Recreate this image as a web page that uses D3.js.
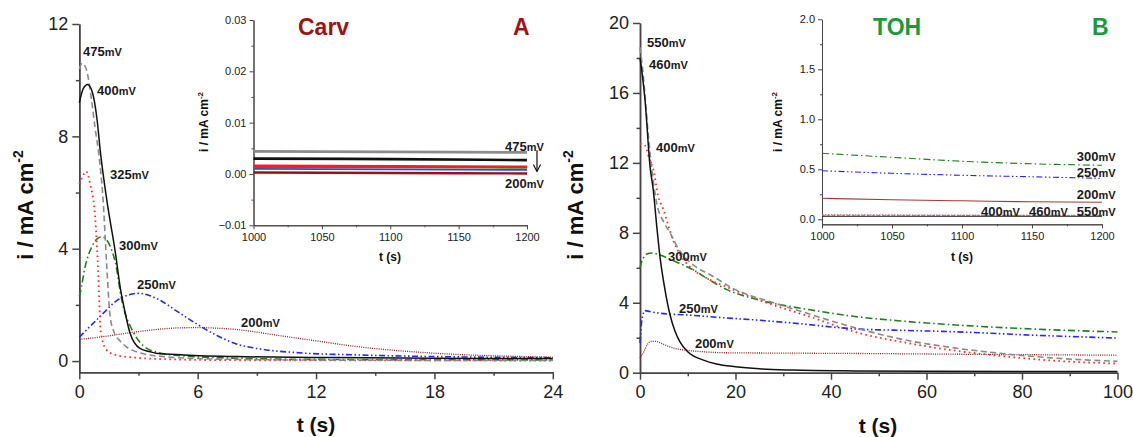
<!DOCTYPE html>
<html lang="en">
  <head>
    <meta charset="utf-8">
    <title>Chronoamperometry Carv / TOH</title>
    <script src="https://d3js.org/d3.v7.min.js"></script>
    <style>
      body { margin: 0; background: #fff; }
      svg { font-family: "Liberation Sans", Arial, sans-serif; }
    </style>
  </head>

  <body>
    <svg></svg>

  <script>

// ---- data: [t (s), i (mA cm-2)] ----

  const carv475 = [[0,10.4],[0.15,10.6],[0.37,10.35],[0.6,9.4],[0.8,8.3],[1.0,7.3],[1.2,5.8],[1.39,3.4],[1.56,1.6],[1.75,1.05],[2.06,0.72],[2.4,0.5],[3.2,0.27],[4.4,0.15],[6,0.09],[9,0.05],[14,0.03],[24,0.02]];
  const carv400 = [[0,9.2],[0.2,9.7],[0.42,9.85],[0.65,9.6],[0.9,8.6],[1.06,7.5],[1.4,5.7],[1.82,3.9],[2.08,2.6],[2.3,1.8],[2.57,1.0],[3.07,0.45],[3.6,0.33],[3.9,0.28],[5.3,0.22],[8,0.16],[12,0.13],[18,0.1],[24,0.09]];
  const carv325 = [[0,6.3],[0.15,6.55],[0.35,6.75],[0.55,6.3],[0.8,5.15],[0.9,4.0],[1.0,2.4],[1.06,1.3],[1.13,0.87],[1.39,0.39],[1.7,0.25],[2.4,0.15],[4.75,0.06],[8,0.03],[24,0.02]];
  const carv300 = [[0,2.3],[0.05,2.44],[0.3,3.37],[0.64,4.08],[0.9,4.35],[1.15,4.42],[1.4,4.3],[1.57,4.08],[1.9,3.26],[2.08,2.44],[2.3,1.75],[2.58,1.25],[3.25,0.54],[4,0.3],[5,0.2],[8,0.1],[12,0.06],[24,0.04]];
  const carv250 = [[0,0.85],[1,1.55],[2,2.2],[3,2.41],[4,2.2],[5,1.75],[6,1.3],[7,0.9],[8,0.6],[9,0.45],[11,0.3],[14,0.22],[19,0.15],[24,0.12]];
  const carv200 = [[0,0.77],[1,0.85],[2,0.95],[3,1.05],[4,1.13],[5,1.18],[6,1.19],[7,1.17],[8,1.12],[9,1.03],[10,0.92],[11,0.82],[12,0.72],[14,0.52],[16,0.38],[18,0.28],[20,0.21],[22,0.17],[24,0.14]];

  const toh550 = [[0,18.6],[0.5,17.5],[1,16],[1.7,13.7],[2.8,10.9],[3.5,9.7],[5,8.6],[6.3,8.0],[8,7.1],[9.4,6.6],[12,6.0],[14.7,5.6],[20,4.75],[28,4.0],[35,3.4],[39,3.05],[46,2.5],[55,1.9],[65,1.45],[75,1.12],[86,0.85],[100,0.65]];
  const toh460 = [[0,18.0],[0.5,17],[1.05,15.6],[2.1,11.8],[2.8,10.4],[3.5,8.4],[4.2,6.6],[5.2,4.8],[6.3,3.3],[7.3,2.4],[8.4,1.75],[10,1.2],[13.3,0.72],[16,0.5],[20,0.34],[25,0.22],[32,0.15],[45,0.1],[60,0.08],[100,0.07]];
  const toh400 = [[0,13.1],[1,13.0],[2,12.2],[2.8,11.6],[3.8,10.1],[4.8,9.4],[6.9,7.6],[8.5,6.7],[10.5,6.05],[14,5.4],[18.2,4.9],[25,4.15],[35.6,3.2],[45.4,2.3],[55,1.75],[65,1.3],[75,0.97],[86,0.7],[100,0.52]];
  const toh300 = [[0,6.0],[0.3,6.3],[0.7,6.55],[1.5,6.8],[2.5,6.85],[4.2,6.73],[7,6.4],[11.2,5.87],[14,5.4],[18.2,4.75],[25,4.15],[35.6,3.6],[45.4,3.2],[55,2.95],[65,2.75],[82,2.5],[100,2.33]];
  const toh250 = [[0,1.7],[0.3,2.8],[0.7,3.4],[1.05,3.55],[2,3.5],[4.2,3.4],[10,3.3],[18.2,3.13],[25,3.0],[32,2.84],[45.4,2.5],[55,2.42],[65,2.35],[82,2.15],[100,1.98]];
  const toh200 = [[0,0.84],[0.8,1.2],[1.5,1.6],[2.5,1.8],[3.5,1.78],[4.5,1.68],[6,1.5],[8,1.35],[9.8,1.28],[13,1.2],[18.2,1.14],[30,1.12],[45,1.1],[70,1.05],[100,1.0]];

  // long-time insets (t = 1000..1200 s)
  const carvLong475 = [[1000,0.0044],[1100,0.0043],[1200,0.0042]];
  const carvLong400 = [[1000,0.0030],[1100,0.0029],[1200,0.0027]];
  const carvLong325 = [[1000,0.0016],[1100,0.0015],[1200,0.0014]];
  const carvLong300 = [[1000,0.0013],[1100,0.0013],[1200,0.0012]];
  const carvLong250 = [[1000,0.0010],[1100,0.0009],[1200,0.0008]];
  const carvLong200 = [[1000,0.0003],[1100,0.0002],[1200,0.0001]];

  const tohLong300 = [[1000,0.66],[1050,0.62],[1100,0.58],[1150,0.555],[1200,0.54]];
  const tohLong250 = [[1000,0.485],[1050,0.46],[1100,0.44],[1150,0.425],[1200,0.41]];
  const tohLong200 = [[1000,0.21],[1050,0.195],[1100,0.185],[1150,0.175],[1200,0.17]];
  const tohLong400 = [[1000,0.045],[1100,0.042],[1200,0.04]];
  const tohLong460 = [[1000,0.04],[1100,0.038],[1200,0.037]];
  const tohLong550 = [[1000,0.03],[1100,0.03],[1200,0.03]];

  // tick values
  const carvXTicks = [0, 6, 12, 18, 24];
  const carvYTicks = [0, 4, 8, 12];
  const tohXTicks = [0, 20, 40, 60, 80, 100];
  const tohYTicks = [0, 4, 8, 12, 16, 20];
  const insetXTicks = [1000, 1050, 1100, 1150, 1200];
  const carvInsetYTicks = [-0.01, 0, 0.01, 0.02, 0.03];
  const tohInsetYTicks = [0, 0.5, 1.0, 1.5, 2.0];

  // curve labels: [mV, t, i] anchored at label baseline-left
  const carvNotes = [["475",0.19,10.85],["400",0.9,9.49],["325",1.56,6.47],["300",2.01,3.97],["250",2.93,2.55],["200",8.2,1.2]];
  const tohNotes = [["550",1.47,18.6],["460",1.88,17.35],["400",3.35,12.65],["300",5.86,6.36],["250",8.17,3.44],["200",11.5,1.44]];
  const carvInsetNotes = [["475",1184,0.00457],["200",1184,-0.00264]];
  const tohInsetNotes = [["300",1182,0.588],["250",1182,0.428],["200",1182,0.208],["400",1113.6,0.038],["460",1147.9,0.038],["550",1182,0.038]];

// ---- line styles ----

  const styles = {
    s475: {color: "#8a8a8a", dash: "6,3.5", width: 1.6},
    s550: {color: "#8a8a8a", dash: "6,3.5", width: 1.6},
    s400: {color: "#111111", dash: null, width: 1.5},
    s460: {color: "#111111", dash: null, width: 1.5},
    s325: {color: "#ff2a2a", dash: "1.6,3.4", width: 1.8},
    s400r: {color: "#ff2a2a", dash: "1.6,3.4", width: 1.8},
    s300: {color: "#1f7f1f", dash: "7,3,1.5,3", width: 1.6},
    s250: {color: "#2626ff", dash: "6,2.5,1.5,2.5,1.5,2.5", width: 1.6},
    s200: {color: "#8b2020", dash: "1,1.2", width: 1.3}
  };

  const w = 1133;
  const h = 437;
  const axisColor = "#4a4343";

  const svg = d3.select("svg")
      .attr("width", w)
      .attr("height", h);

  svg.append("rect")
      .attr("width", w)
      .attr("height", h)
      .attr("fill", "white");

// ---- helpers ----

  function minorTicks(major) {
    const out = [];
    for (let k = 0; k < major.length - 1; k++) out.push((major[k] + major[k + 1]) / 2);
    return out;
  }

  function drawAxes(x, y, xMajor, yMajor, o) {
    const g = svg.append("g");
    const yBase = y.range()[0];
    const xBase = x.range()[0];

    g.append("g")
        .attr("transform", `translate(0, ${yBase})`)
        .call(d3.axisBottom(x).tickValues(minorTicks(xMajor)).tickSize(o.tick / 2).tickFormat("").tickSizeOuter(0));
    g.append("g")
        .attr("transform", `translate(0, ${yBase})`)
        .call(d3.axisBottom(x).tickValues(xMajor).tickSize(o.tick).tickPadding(o.xPad).tickFormat(o.xFmt).tickSizeOuter(0));
    g.append("g")
        .attr("transform", `translate(${xBase}, 0)`)
        .call(d3.axisLeft(y).tickValues(minorTicks(yMajor)).tickSize(o.tick / 2).tickFormat("").tickSizeOuter(0));
    g.append("g")
        .attr("transform", `translate(${xBase}, 0)`)
        .call(d3.axisLeft(y).tickValues(yMajor).tickSize(o.tick).tickPadding(o.yPad).tickFormat(o.yFmt).tickSizeOuter(0));

    g.selectAll("path.domain, line")
        .attr("stroke", axisColor)
        .attr("stroke-width", o.stroke);
    g.selectAll("text")
        .attr("font-size", o.font)
        .attr("font-family", "Liberation Sans, Arial, sans-serif")
        .attr("fill", "#222");
    return g;
  }

  function drawCurve(x, y, data, st, widthOverride) {
    const line = d3.line()
        .x(d => x(d[0]))
        .y(d => y(d[1]))
        .curve(d3.curveMonotoneX);
    svg.append("path")
        .datum(data)
        .attr("d", line)
        .attr("fill", "none")
        .attr("stroke", st.color)
        .attr("stroke-width", widthOverride || st.width)
        .attr("stroke-dasharray", st.dash)
        .attr("stroke-linejoin", "round");
  }

  function drawNotes(x, y, notes, big, small) {
    notes.forEach(n => {
      const t = svg.append("text")
          .attr("x", x(n[1]))
          .attr("y", y(n[2]))
          .attr("font-weight", "bold")
          .attr("fill", "#1a1a1a");
      t.append("tspan").attr("font-size", big).text(n[0]);
      t.append("tspan").attr("font-size", small).text("mV");
    });
  }

  function yLabel(cx, cy, size, supSize) {
    const t = svg.append("text")
        .attr("transform", `translate(${cx}, ${cy}) rotate(-90)`)
        .attr("text-anchor", "middle")
        .attr("font-weight", "bold")
        .attr("fill", "#111")
        .attr("font-size", size);
    t.append("tspan").text("i / mA cm");
    t.append("tspan").attr("font-size", supSize).attr("dy", -size * 0.45).text("-2");
  }

  function xLabel(cx, cy, size) {
    svg.append("text")
        .attr("x", cx)
        .attr("y", cy)
        .attr("text-anchor", "middle")
        .attr("font-weight", "bold")
        .attr("font-size", size)
        .attr("fill", "#111")
        .text("t (s)");
  }

// ---- panel A : Carv ----

  const xA = d3.scaleLinear().domain([0, 24]).range([79.3, 552.8]);
  const yA = d3.scaleLinear().domain([-0.4, 12]).range([372.3, 24]);

  drawAxes(xA, yA, carvXTicks, carvYTicks,
    {tick: 7, xPad: 6, yPad: 4, font: 18, stroke: 1.5, xFmt: d3.format("d"), yFmt: d3.format("d")});

  drawCurve(xA, yA, carv200, styles.s200);
  drawCurve(xA, yA, carv250, styles.s250);
  drawCurve(xA, yA, carv300, styles.s300);
  drawCurve(xA, yA, carv325, styles.s325);
  drawCurve(xA, yA, carv475, styles.s475);
  drawCurve(xA, yA, carv400, styles.s400);
  drawNotes(xA, yA, carvNotes, 13, 11);

  yLabel(33, 205, 22, 14);
  xLabel(316, 432, 21);

  // inset A
  const xAi = d3.scaleLinear().domain([1000, 1200]).range([253.5, 527]);
  const yAi = d3.scaleLinear().domain([-0.01, 0.03]).range([225.3, 20]);

  drawAxes(xAi, yAi, insetXTicks, carvInsetYTicks,
    {tick: 4, xPad: 4, yPad: 3, font: 11, stroke: 1, xFmt: d3.format("d"), yFmt: d3.format(".2f")});

  drawCurve(xAi, yAi, carvLong475, {color: "#8c8c8c"}, 2.6);
  drawCurve(xAi, yAi, carvLong400, {color: "#111111"}, 2.6);
  drawCurve(xAi, yAi, carvLong200, {color: "#9b1010"}, 2.4);
  drawCurve(xAi, yAi, carvLong250, {color: "#3040ff"}, 1.8);
  drawCurve(xAi, yAi, carvLong300, {color: "#2a8a2a"}, 2);
  drawCurve(xAi, yAi, carvLong325, {color: "#ff1a1a"}, 2.4);
  drawNotes(xAi, yAi, carvInsetNotes, 13, 11);

  // arrow 475 -> 200
  svg.append("defs").append("marker")
      .attr("id", "arrowhead")
      .attr("viewBox", "0 0 10 10")
      .attr("refX", 9).attr("refY", 5)
      .attr("markerWidth", 6).attr("markerHeight", 6)
      .attr("orient", "auto")
    .append("path")
      .attr("d", "M0,0 L10,5 L0,10")
      .attr("fill", "none")
      .attr("stroke", "#111")
      .attr("stroke-width", 1.6);

  svg.append("line")
      .attr("x1", xAi(1207.3)).attr("x2", xAi(1207.3))
      .attr("y1", yAi(0.0046)).attr("y2", yAi(0.0006))
      .attr("stroke", "#111")
      .attr("stroke-width", 1.2)
      .attr("marker-end", "url(#arrowhead)");

  yLabel(208, 122, 12, 8);
  xLabel(390, 261, 12);

  svg.append("text")
      .attr("x", 298).attr("y", 35)
      .attr("font-size", 23).attr("font-weight", "bold")
      .attr("fill", "#9b1414")
      .text("Carv");
  svg.append("text")
      .attr("x", 513).attr("y", 35)
      .attr("font-size", 23).attr("font-weight", "bold")
      .attr("fill", "#9b1414")
      .text("A");

// ---- panel B : TOH ----

  const xB = d3.scaleLinear().domain([0, 100]).range([640, 1117.5]);
  const yB = d3.scaleLinear().domain([0, 20]).range([372.7, 23]);

  drawAxes(xB, yB, tohXTicks, tohYTicks,
    {tick: 7, xPad: 6, yPad: 4, font: 18, stroke: 1.5, xFmt: d3.format("d"), yFmt: d3.format("d")});

  // inset B
  const xBi = d3.scaleLinear().domain([1000, 1200]).range([822, 1102]);
  const yBi = d3.scaleLinear().domain([-0.05, 2.0]).range([224.3, 19.3]);

  drawAxes(xBi, yBi, insetXTicks, tohInsetYTicks,
    {tick: 4, xPad: 4, yPad: 3, font: 11, stroke: 1, xFmt: d3.format("d"), yFmt: d3.format(".1f")});

  drawCurve(xB, yB, toh200, styles.s200);
  drawCurve(xB, yB, toh250, styles.s250);
  drawCurve(xB, yB, toh300, styles.s300);
  drawCurve(xB, yB, toh400, styles.s400r);
  drawCurve(xB, yB, toh550, styles.s550);
  drawCurve(xB, yB, toh460, styles.s460);
  drawNotes(xB, yB, tohNotes, 13, 11);

  drawCurve(xBi, yBi, tohLong300, styles.s300, 1.1);
  drawCurve(xBi, yBi, tohLong250, styles.s250, 1.1);
  drawCurve(xBi, yBi, tohLong200, {color: "#a03a3a"}, 1.1);
  drawCurve(xBi, yBi, tohLong400, {color: "#d04040", dash: "1.5,1.5"}, 1);
  drawCurve(xBi, yBi, tohLong460, {color: "#9a9a9a", dash: "3,2"}, 1);
  drawCurve(xBi, yBi, tohLong550, {color: "#222"}, 1);
  drawNotes(xBi, yBi, tohInsetNotes, 13, 11);

  yLabel(583, 205, 22, 14);
  xLabel(878, 433, 21);
  yLabel(782, 122, 12, 8);
  xLabel(962, 261, 12);

  svg.append("text")
      .attr("x", 873).attr("y", 35)
      .attr("font-size", 23).attr("font-weight", "bold")
      .attr("fill", "#1a9a3a")
      .text("TOH");
  svg.append("text")
      .attr("x", 1092).attr("y", 35)
      .attr("font-size", 23).attr("font-weight", "bold")
      .attr("fill", "#1a9a3a")
      .text("B");

    </script>

  </body>

</html>
